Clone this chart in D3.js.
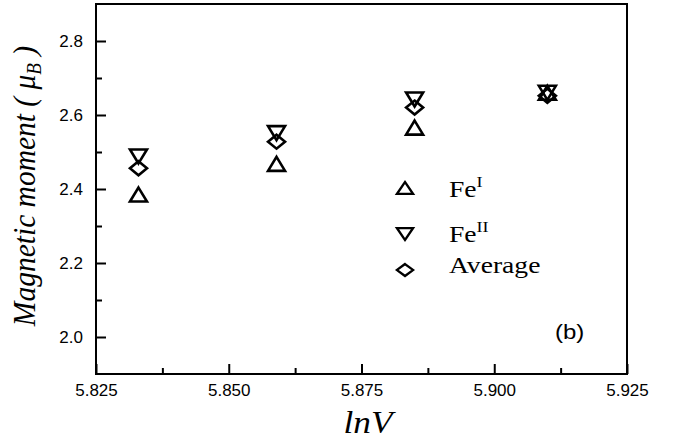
<!DOCTYPE html>
<html>
<head>
<meta charset="utf-8">
<script src="https://cdn.jsdelivr.net/npm/d3@7"></script>
<style>
  body { margin: 0; background: #fff; }
  text { fill: #000; }
</style>
</head>
<body>
<svg id="chart" width="673" height="441"></svg>
<script>
// Magnetic moment of the Fe sites versus ln V
const lnV     = [5.833, 5.859, 5.885, 5.910];
const feI     = [2.385, 2.468, 2.566, 2.660];
const feII    = [2.488, 2.551, 2.642, 2.660];
const average = [2.456, 2.528, 2.620, 2.652];

const xTicks      = [5.825, 5.850, 5.875, 5.900, 5.925];
const xMinorTicks = [5.8375, 5.8625, 5.8875, 5.9125];
const yTicks      = [2.0, 2.2, 2.4, 2.6, 2.8];
const yMinorTicks = [2.1, 2.3, 2.5, 2.7];

const svg = d3.select("#chart");
const box = { left: 96, right: 627, top: 4, bottom: 374 };

const x = d3.scaleLinear().domain([5.825, 5.925]).range([box.left, box.right]);
const y = d3.scaleLinear().domain([1.9, 2.9]).range([box.bottom, box.top]);

const sans = "'Liberation Sans', Arial, sans-serif";
const serif = "'Liberation Serif', 'Times New Roman', serif";

// Axes with inward ticks
svg.append("g")
  .attr("transform", `translate(0,${box.bottom})`)
  .call(d3.axisBottom(x).tickValues(xTicks).tickFormat(d3.format(".3f"))
        .tickSize(-10).tickPadding(10));
svg.append("g")
  .attr("transform", `translate(0,${box.bottom})`)
  .call(d3.axisBottom(x).tickValues(xMinorTicks).tickFormat("").tickSize(-6));

svg.append("g")
  .attr("transform", `translate(${box.left},0)`)
  .call(d3.axisLeft(y).tickValues(yTicks).tickFormat(d3.format(".1f"))
        .tickSize(-10).tickPadding(13));
svg.append("g")
  .attr("transform", `translate(${box.left},0)`)
  .call(d3.axisLeft(y).tickValues(yMinorTicks).tickFormat("").tickSize(-6));

svg.selectAll(".domain").remove();
svg.selectAll(".tick line").attr("stroke", "#000").attr("stroke-width", 2);
svg.selectAll(".tick text").attr("font-family", sans).attr("font-size", 17).attr("fill", "#000");

// Frame
svg.append("rect")
  .attr("x", box.left).attr("y", box.top)
  .attr("width", box.right - box.left).attr("height", box.bottom - box.top)
  .attr("fill", "none").attr("stroke", "#000").attr("stroke-width", 2);

// Marker shapes (centred on their bounding box)
const W = 8.5, H = 7;
const shapes = {
  up:      `M0,${-H}L${W},${H}L${-W},${H}Z`,
  down:    `M0,${H}L${W},${-H}L${-W},${-H}Z`,
  diamond: `M0,${-H}L${W},0L0,${H}L${-W},0Z`
};

const series = [
  { values: feI,     shape: "up" },
  { values: feII,    shape: "down" },
  { values: average, shape: "diamond" }
];

series.forEach(s => {
  svg.append("g").selectAll("path")
    .data(s.values.map((v, i) => [lnV[i], v]))
    .join("path")
    .attr("transform", d => `translate(${x(d[0])},${y(d[1])})`)
    .attr("d", shapes[s.shape])
    .attr("fill", "none").attr("stroke", "#000").attr("stroke-width", 2.6)
    .attr("stroke-linejoin", "miter");
});

// Legend
const legendRows = [
  { shape: "up",      label: "Fe", sup: "I",  y: 188, base: 197 },
  { shape: "down",    label: "Fe", sup: "II", y: 234, base: 242 },
  { shape: "diamond", label: "Average", sup: null, y: 270, base: 273 }
];
legendRows.forEach(r => {
  svg.append("path")
    .attr("transform", `translate(405,${r.y}) scale(0.95,0.85)`)
    .attr("d", shapes[r.shape])
    .attr("fill", "none").attr("stroke", "#000").attr("stroke-width", 2.6);
  const t = svg.append("text")
    .attr("transform", `translate(449,${r.base}) scale(1.2,1)`)
    .attr("font-family", serif).attr("font-size", 23);
  t.append("tspan").text(r.label);
  if (r.sup) {
    t.append("tspan").attr("font-size", 15).attr("dy", -10).text(r.sup);
  }
});

// Panel tag
svg.append("text")
  .attr("transform", "translate(555,339) scale(1.2,1)")
  .attr("font-family", sans).attr("font-size", 20).text("(b)");

// Axis titles
svg.append("text")
  .attr("transform", "translate(368,433) scale(1.1,1)")
  .attr("text-anchor", "middle")
  .attr("font-family", serif).attr("font-style", "italic").attr("font-size", 32)
  .text("lnV");

const yTitle = svg.append("text")
  .attr("transform", "translate(35,186) scale(1.1,1) rotate(-90)")
  .attr("text-anchor", "middle")
  .attr("font-family", serif).attr("font-style", "italic").attr("font-size", 29.5);
yTitle.append("tspan").text("Magnetic moment ( \u03bc");
yTitle.append("tspan").attr("font-size", 19).attr("dy", 5).text("B");
yTitle.append("tspan").attr("dy", -5).text(" )");
</script>
</body>
</html>
